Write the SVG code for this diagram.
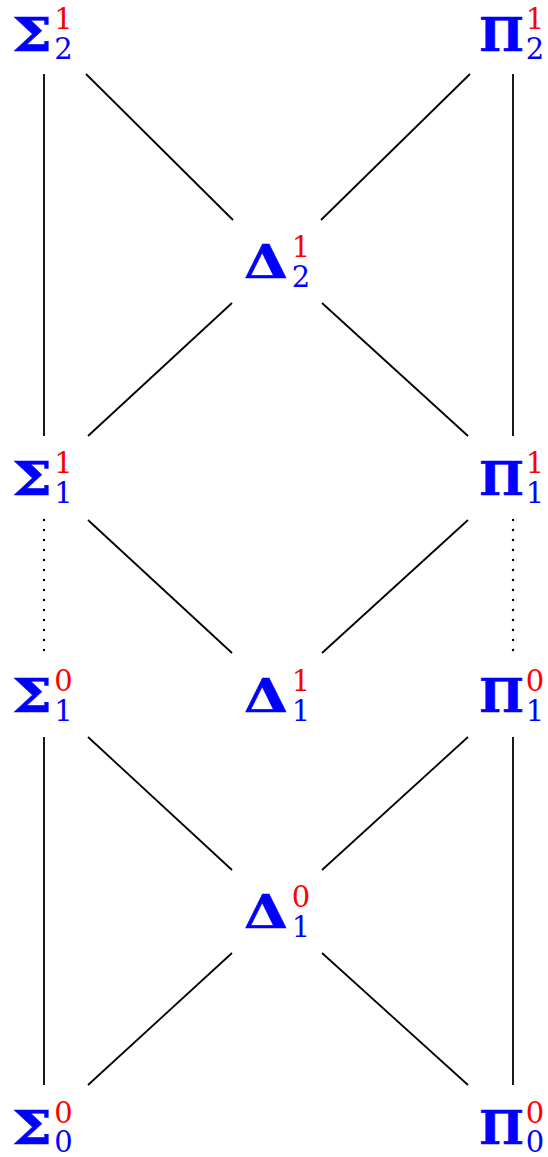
<svg xmlns="http://www.w3.org/2000/svg" width="548" height="1157" viewBox="0 0 548 1157">
<style>
.m{font-family:"DejaVu Serif","Liberation Serif",serif;font-weight:bold;font-size:47px;fill:#0000ff;stroke:#0000ff;stroke-width:0.6}
.sup{font-family:"DejaVu Serif","Liberation Serif",serif;font-size:29px;fill:#ff0000;text-anchor:middle}
.sub{font-family:"DejaVu Serif","Liberation Serif",serif;font-size:29px;fill:#0000ff;text-anchor:middle}
.e{stroke:#000;stroke-width:1.8;fill:none}
.d{stroke:#000;stroke-width:2.4;fill:none;stroke-dasharray:0 10;stroke-linecap:round}
</style>
<rect width="548" height="1157" fill="#fff"/>
<g id="connectors">
<line class="e" x1="44" y1="74" x2="44" y2="436"/>
<line class="e" x1="86" y1="74" x2="233" y2="220"/>
<line class="e" x1="470" y1="74" x2="321" y2="220"/>
<line class="e" x1="513" y1="74" x2="513" y2="436"/>
<line class="e" x1="232" y1="303" x2="88" y2="436"/>
<line class="e" x1="322" y1="303" x2="468" y2="436"/>
<line class="e" x1="88" y1="520" x2="232" y2="653"/>
<line class="e" x1="468" y1="520" x2="322" y2="653"/>
<line class="d" x1="44" y1="520" x2="44" y2="651"/>
<line class="d" x1="513" y1="520" x2="513" y2="651"/>
<line class="e" x1="44" y1="737" x2="44" y2="1085"/>
<line class="e" x1="88" y1="737" x2="232" y2="870"/>
<line class="e" x1="468" y1="737" x2="322" y2="870"/>
<line class="e" x1="513" y1="737" x2="513" y2="1085"/>
<line class="e" x1="232" y1="953" x2="88" y2="1085"/>
<line class="e" x1="322" y1="953" x2="468" y2="1085"/>
</g>
<g id="Sigma21"><text class="m" x="12" y="51" textLength="40" lengthAdjust="spacingAndGlyphs">Σ</text><text class="sup" x="63.5" y="29">1</text><text class="sub" x="63.5" y="59">2</text></g>
<g id="Pi21"><text class="m" x="479" y="51" textLength="45" lengthAdjust="spacingAndGlyphs">Π</text><text class="sup" x="535" y="29">1</text><text class="sub" x="535" y="59">2</text></g>
<g id="Delta21"><text class="m" x="244" y="278" textLength="44" lengthAdjust="spacingAndGlyphs">Δ</text><text class="sup" x="301" y="257">1</text><text class="sub" x="301" y="287">2</text></g>
<g id="Sigma11"><text class="m" x="12" y="495" textLength="40" lengthAdjust="spacingAndGlyphs">Σ</text><text class="sup" x="63.5" y="473">1</text><text class="sub" x="63.5" y="503">1</text></g>
<g id="Pi11"><text class="m" x="479" y="495" textLength="45" lengthAdjust="spacingAndGlyphs">Π</text><text class="sup" x="535" y="473">1</text><text class="sub" x="535" y="503">1</text></g>
<g id="Sigma10"><text class="m" x="12" y="712" textLength="40" lengthAdjust="spacingAndGlyphs">Σ</text><text class="sup" x="63.5" y="691">0</text><text class="sub" x="63.5" y="721">1</text></g>
<g id="Delta11"><text class="m" x="244" y="712" textLength="44" lengthAdjust="spacingAndGlyphs">Δ</text><text class="sup" x="301" y="691">1</text><text class="sub" x="301" y="721">1</text></g>
<g id="Pi10"><text class="m" x="479" y="712" textLength="45" lengthAdjust="spacingAndGlyphs">Π</text><text class="sup" x="535" y="691">0</text><text class="sub" x="535" y="721">1</text></g>
<g id="Delta10"><text class="m" x="244" y="928" textLength="44" lengthAdjust="spacingAndGlyphs">Δ</text><text class="sup" x="301" y="907">0</text><text class="sub" x="301" y="937">1</text></g>
<g id="Sigma00"><text class="m" x="12" y="1144" textLength="40" lengthAdjust="spacingAndGlyphs">Σ</text><text class="sup" x="63.5" y="1123">0</text><text class="sub" x="63.5" y="1152">0</text></g>
<g id="Pi00"><text class="m" x="479" y="1144" textLength="45" lengthAdjust="spacingAndGlyphs">Π</text><text class="sup" x="535" y="1123">0</text><text class="sub" x="535" y="1152">0</text></g>
</svg>
